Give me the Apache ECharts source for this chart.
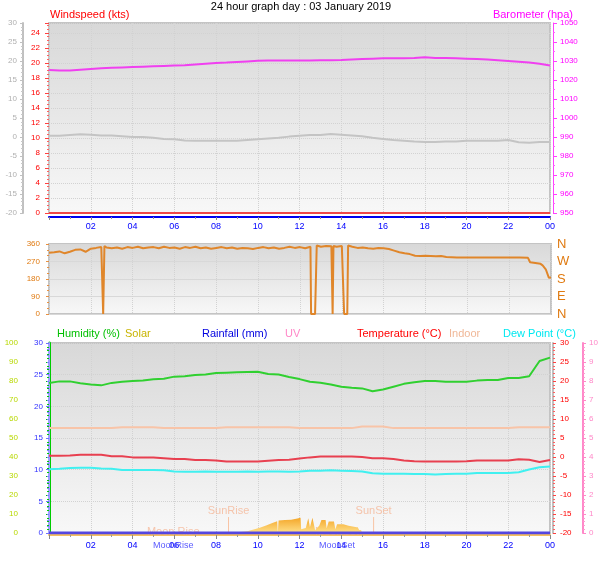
<!DOCTYPE html>
<html><head><meta charset="utf-8">
<script src="https://cdn.jsdelivr.net/npm/echarts@6/dist/echarts.min.js"></script>
<style>html,body{margin:0;padding:0;background:#fff}#c{width:608px;height:561px}</style>
</head><body><div id="c"></div>
<script>
// ---------- DATA ----------
const titleText = '24 hour graph day : 03 January 2019';
const halfHours = [0,0.5,1,1.5,2,2.5,3,3.5,4,4.5,5,5.5,6,6.5,7,7.5,8,8.5,9,9.5,10,10.5,11,11.5,12,12.5,13,13.5,14,14.5,15,15.5,16,16.5,17,17.5,18,18.5,19,19.5,20,20.5,21,21.5,22,22.5,23,23.5,24];
const baroValues = [1025.3,1025.0,1025.0,1025.4,1025.8,1026.2,1026.4,1026.6,1026.8,1027.0,1027.2,1027.4,1027.6,1027.8,1028.2,1028.6,1029.0,1029.2,1029.5,1029.8,1030.1,1030.2,1030.3,1030.3,1030.3,1030.3,1030.4,1030.4,1030.5,1030.8,1031.0,1031.2,1031.4,1031.5,1031.5,1031.6,1032.0,1031.6,1031.6,1031.4,1031.2,1031.0,1030.8,1030.4,1030.0,1029.6,1029.2,1028.6,1027.6];
const apparentValues = [0.3,0.3,0.5,0.7,0.6,0.4,0.4,0.2,0.0,0.0,-0.2,-0.5,-0.6,-0.9,-1.0,-1.0,-1.0,-1.0,-1.0,-0.8,-0.6,-0.4,-0.2,0.1,0.3,0.5,0.5,0.8,0.6,0.4,0.2,-0.2,-0.5,-0.8,-1.0,-1.2,-1.3,-1.3,-1.2,-1.2,-1.0,-1.0,-1.0,-1.0,-0.8,-1.4,-1.5,-1.3,-1.3];
const windHours = [0, 24];
const windValues = [0, 0];
const dirHours = [0,0.25,0.5,0.75,1,1.25,1.5,1.75,2,2.25,2.5,2.59,2.65,2.75,3,3.25,3.5,3.75,4,4.25,4.5,4.75,5,5.25,5.5,5.75,6,6.25,6.5,6.75,7,7.25,7.5,7.75,8,8.25,8.5,8.75,9,9.25,9.5,9.75,10,10.25,10.5,10.75,11,11.25,11.5,11.75,12,12.25,12.5,12.53,12.72,12.8,13,13.25,13.5,13.56,13.6,13.75,14,14.11,14.26,14.3,14.5,14.75,15,15.25,15.5,15.75,16,16.25,16.5,16.75,17,17.25,17.5,17.75,18,18.25,18.5,18.75,19,19.25,19.5,19.75,20,20.5,21,21.5,22,22.5,22.9,23,23.25,23.5,23.6,23.75,23.9,24];
const dirValues = [315,318,322,312,320,330,332,320,336,340,345,0,350,342,338,342,336,344,340,346,338,342,344,338,346,340,342,336,344,340,346,338,342,336,340,344,338,342,336,340,338,334,340,344,338,342,336,340,346,340,344,338,346,0,0,352,346,350,348,0,350,346,350,0,0,352,346,340,342,338,336,340,338,334,326,318,312,308,300,298,299,298,297,298,293,292,291,290,290,290,290,290,290,290,289,266,262,258,250,230,186,188];
const humidityValues = [79.0,79.8,79.8,78.8,78.2,77.7,79.0,79.6,80.0,80.3,80.9,81.2,82.3,82.5,83.2,83.4,84.2,84.4,84.6,84.8,84.9,83.7,83.4,82.1,81.0,79.6,79.1,78.2,77.0,76.5,76.1,74.6,75.5,77.0,78.5,79.3,80.0,80.0,79.6,79.6,79.6,80.2,80.5,80.5,81.6,81.6,82.5,90.5,92.3];
const tempValues = [0.3,0.3,0.4,0.6,0.6,0.6,0.2,0.2,-0.1,-0.1,-0.1,-0.3,-0.5,-0.5,-0.8,-0.8,-0.9,-1.2,-1.2,-1.2,-1.2,-1.0,-0.8,-0.7,-0.4,-0.1,0.1,0.1,0.1,0.1,0.0,-0.3,-0.3,-0.5,-0.9,-1.1,-1.2,-1.2,-1.2,-1.2,-1.1,-0.9,-0.9,-0.9,-0.9,-0.6,-0.7,-1.3,-0.8];
const dewValues = [-3.2,-3.1,-2.9,-2.8,-2.8,-3.0,-3.1,-3.4,-3.4,-3.4,-3.4,-3.5,-3.8,-3.9,-3.9,-3.8,-3.9,-3.9,-3.9,-3.8,-3.9,-3.8,-3.8,-3.9,-3.8,-3.6,-3.6,-3.5,-3.6,-3.7,-3.8,-4.3,-4.4,-4.4,-4.4,-4.5,-4.5,-4.6,-4.5,-4.4,-4.4,-4.2,-4.2,-4.2,-4.2,-4.0,-3.3,-2.7,-2.5];
const indoorValues = [7.6,7.6,7.6,7.6,7.6,7.6,7.6,7.8,7.8,7.8,7.8,7.6,7.6,7.6,7.6,7.6,7.6,7.8,7.8,7.8,7.8,7.8,7.8,7.8,7.6,7.6,7.6,7.6,7.6,7.6,8.0,8.0,8.0,7.6,7.6,7.6,7.6,7.6,7.6,7.6,7.6,7.6,7.6,7.6,7.6,7.8,7.8,7.8,7.8];
const solarHours = [9.05,9.2,9.5,9.8,10.1,10.4,10.7,10.93,10.96,11.0,11.3,11.6,11.9,12.05,12.08,12.3,12.42,12.5,12.62,12.75,12.95,13.05,13.25,13.3,13.4,13.65,13.72,13.8,14.1,14.15,14.35,14.4,14.8,14.85,14.95,15.0];
const solarValues = [0,5,9,18,28,40,52,62,2,66,68,70,76,80,20,26,78,30,80,15,40,68,68,25,60,60,20,46,46,38,38,29,29,16,16,0];
const rainHours = [0, 24];
const rainValues = [0, 0];
const sunNames = ['SunRise', 'SunSet'];
const sunHours = [8.6, 15.55];
const sunMarkHeight = 84;
const moonNames = ['MoonRise', 'MoonSet'];
const moonInnerNames = ['Moon Rise', 'MoonSet'];
const moonHours = [5.95, 13.8];
const compassLabels = ['N', 'E', 'S', 'W', 'N'];
const legendTop = [['Windspeed (kts)', '#ff0000'], ['Barometer (hpa)', '#ff00ff']];
const legendBottom = [['Humidity (%)', '#00c000'], ['Solar', '#c8b400'], ['Rainfall (mm)', '#0000e0'], ['UV', '#ff88c8'], ['Temperature (°C)', '#ff0000'], ['Indoor', '#f0b898'], ['Dew Point (°C)', '#00e8f0']];

// ---------- CHART ----------
const zip = (xs, ys) => xs.map((x, i) => [x, ys[i]]);
const FONT = "'Liberation Sans Narrow','Liberation Sans',Arial,sans-serif";
const FONT2 = "'Liberation Sans',Arial,sans-serif";
const hourFmt = v => v === 0 ? '' : (v === 24 ? '00' : String(v).padStart(2, '0'));
const plain = v => String(v);
const bg = {type:'linear', x:0, y:0, x2:0, y2:1, colorStops:[{offset:0,color:'#d8d8d8'},{offset:0.5,color:'#e8e8e8'},{offset:1,color:'#f8f8f8'}]};
const split = {show:true, lineStyle:{color:'#d2d2d2', type:'dotted', width:1}};
const lbl = (color, margin, extra) => Object.assign({color, fontSize:8, fontFamily:FONT, margin, formatter:plain}, extra || {});

const legendXBottom = [57, 125, 202, 285, 357, 449, 503];

const graphics = [
  {type:'text', x:301, y:7, style:{text:titleText, fill:'#000', font:'11px ' + FONT2, textAlign:'center', textVerticalAlign:'middle'}},
  {type:'text', x:50, y:15, style:{text:legendTop[0][0], fill:legendTop[0][1], font:'11px ' + FONT2, textVerticalAlign:'middle'}},
  {type:'text', x:573, y:15, style:{text:legendTop[1][0], fill:legendTop[1][1], font:'11px ' + FONT2, textAlign:'right', textVerticalAlign:'middle'}}
].concat(legendBottom.map((l, i) => ({type:'text', x:legendXBottom[i], y:334, style:{text:l[0], fill:l[1], font:'11px ' + FONT2, textVerticalAlign:'middle'}})));

const option = {
  animation:false,
  backgroundColor:'#ffffff',
  graphic:{elements:graphics},
  grid:[
    {left:49, top:23, width:501, height:190, show:true, backgroundColor:bg, borderColor:'#c4c4c4', borderWidth:2},
    {left:49, top:244, width:502, height:70, show:true, backgroundColor:bg, borderColor:'#c4c4c4', borderWidth:2},
    {left:49, top:343, width:501, height:190, show:true, backgroundColor:bg, borderColor:'#c4c4c4', borderWidth:2}
  ],
  xAxis:[
    {gridIndex:0, type:'value', min:0, max:24, interval:2, offset:4,
      axisLine:{show:true, onZero:false, lineStyle:{color:'#0000ee', width:2}},
      axisTick:{show:true, length:3, lineStyle:{color:'#888'}},
      minorTick:{show:true, splitNumber:2, length:2, lineStyle:{color:'#999'}},
      axisLabel:lbl('#0000ff', 5, {fontSize:9, formatter:hourFmt}), splitLine:split},
    {gridIndex:1, type:'value', min:0, max:24, interval:2,
      axisLine:{show:false, onZero:false}, axisTick:{show:false}, axisLabel:{show:false}, splitLine:split},
    {gridIndex:2, type:'value', min:0, max:24, interval:2, offset:2,
      axisLine:{show:true, onZero:false, lineStyle:{color:'#f5c060', width:2}},
      axisTick:{show:true, length:4, lineStyle:{color:'#888'}},
      minorTick:{show:true, splitNumber:2, length:2, lineStyle:{color:'#999'}},
      axisLabel:lbl('#0000ff', 6, {fontSize:9, formatter:hourFmt}), splitLine:split},
    {gridIndex:2, type:'value', min:0, max:24, offset:2, position:'bottom',
      axisLine:{show:false, onZero:false}, axisTick:{show:false}, splitLine:{show:false},
      axisLabel:lbl('#5a5aff', 6, {fontSize:9, customValues:moonHours, formatter:v => moonNames[moonHours.indexOf(v)] || ''})}
  ],
  yAxis:[
    {gridIndex:0, type:'value', position:'left', offset:2, min:0, max:25.33, interval:2,
      axisLine:{show:false}, axisTick:{show:true, length:4, lineStyle:{color:'#ff4040'}},
      minorTick:{show:true, splitNumber:4, length:2, lineStyle:{color:'#ff6060'}},
      axisLabel:lbl('#ff0000', 7, {formatter:v => (v % 2 === 0 ? String(v) : '')}), splitLine:split},
    {gridIndex:0, type:'value', position:'left', offset:26, min:-20, max:30, interval:5,
      axisLine:{show:true, lineStyle:{color:'#c0c0c0', width:2}}, axisTick:{show:true, length:3, lineStyle:{color:'#c0c0c0'}},
      minorTick:{show:true, splitNumber:5, length:2, lineStyle:{color:'#c8c8c8'}},
      axisLabel:lbl('#b0b0b0', 6), splitLine:{show:false}},
    {gridIndex:0, type:'value', position:'right', offset:3, min:950, max:1050, interval:10,
      axisLine:{show:true, lineStyle:{color:'#ff40ff', width:1}}, axisTick:{show:true, length:4, lineStyle:{color:'#ff40ff'}},
      minorTick:{show:true, splitNumber:2, length:2, lineStyle:{color:'#ff60ff'}},
      axisLabel:lbl('#ff00ff', 7), splitLine:{show:false}},
    {gridIndex:1, type:'value', position:'left', offset:2, min:0, max:360, interval:90,
      axisLine:{show:false}, axisTick:{show:true, length:3, lineStyle:{color:'#e89040'}},
      minorTick:{show:true, splitNumber:3, length:2, lineStyle:{color:'#e89040'}},
      axisLabel:lbl('#e07a10', 7), splitLine:{show:true, lineStyle:{color:'#d8d8d8', width:1}}},
    {gridIndex:1, type:'value', position:'right', offset:0, min:0, max:360, interval:90,
      axisLine:{show:false}, axisTick:{show:false},
      axisLabel:{color:'#e07a10', fontSize:13, fontFamily:FONT2, margin:6, formatter:v => compassLabels[v / 90]}, splitLine:{show:false}},
    {gridIndex:2, type:'value', position:'left', offset:25, min:0, max:100, interval:10,
      axisLine:{show:true, lineStyle:{color:'#00cc00', width:3}}, axisTick:{show:true, length:3, lineStyle:{color:'#00cc00'}},
      minorTick:{show:true, splitNumber:5, length:2, lineStyle:{color:'#00cc00'}},
      axisLabel:lbl('#b8d800', 6), splitLine:{show:false}},
    {gridIndex:2, type:'value', position:'left', offset:1, min:0, max:30, interval:5,
      axisLine:{show:true, lineStyle:{color:'#a0a0ff', width:2}}, axisTick:{show:true, length:3, lineStyle:{color:'#7070ff'}},
      minorTick:{show:true, splitNumber:5, length:2, lineStyle:{color:'#8080ff'}},
      axisLabel:lbl('#3030ff', 5), splitLine:split},
    {gridIndex:2, type:'value', position:'right', offset:3, min:-20, max:30, interval:5,
      axisLine:{show:true, lineStyle:{color:'#c0c0c0', width:2}}, axisTick:{show:true, length:3, lineStyle:{color:'#ff4040'}},
      minorTick:{show:true, splitNumber:5, length:2, lineStyle:{color:'#ff6060'}},
      axisLabel:lbl('#ff0000', 7), splitLine:{show:false}},
    {gridIndex:2, type:'value', position:'right', offset:33, min:0, max:10, interval:1,
      axisLine:{show:true, lineStyle:{color:'#ff88c8', width:2}}, axisTick:{show:true, length:3, lineStyle:{color:'#ff88c8'}},
      minorTick:{show:true, splitNumber:5, length:2, lineStyle:{color:'#ff99d0'}},
      axisLabel:lbl('#ff88c8', 6), splitLine:{show:false}},
    {gridIndex:2, type:'value', show:false, min:0, max:1000}
  ],
  series:[
    {type:'line', xAxisIndex:0, yAxisIndex:1, data:zip(halfHours, apparentValues), showSymbol:false, lineStyle:{color:'#c4c4c4', width:2}},
    {type:'line', xAxisIndex:0, yAxisIndex:2, data:zip(halfHours, baroValues), showSymbol:false, lineStyle:{color:'#f040f0', width:2}},
    {type:'line', xAxisIndex:0, yAxisIndex:0, data:zip(windHours, windValues), showSymbol:false, lineStyle:{color:'#f04848', width:2}},
    {type:'line', xAxisIndex:1, yAxisIndex:3, data:zip(dirHours, dirValues), showSymbol:false, lineStyle:{color:'#e0862a', width:2}},
    {type:'line', xAxisIndex:2, yAxisIndex:9, data:zip(solarHours, solarValues), showSymbol:false, lineStyle:{width:0},
      areaStyle:{opacity:1, color:{type:'linear', x:0, y:0, x2:0, y2:1, colorStops:[{offset:0,color:'#f4a628'},{offset:1,color:'#ffe08a'}]}}},
  ].concat(sunHours.map((h, i) => ({type:'line', xAxisIndex:2, yAxisIndex:9, data:[[h, 0], [h, sunMarkHeight]], showSymbol:false, lineStyle:{color:'#f8c4a4', width:1}})))
  .concat([
    {type:'scatter', xAxisIndex:2, yAxisIndex:9, symbolSize:0, data:sunHours.map((h, i) => ({value:[h, sunMarkHeight], name:sunNames[i]})),
      label:{show:true, position:'top', distance:1, formatter:p => p.name, color:'#f5b898', fontSize:11, fontFamily:FONT2}},
    {type:'scatter', xAxisIndex:2, yAxisIndex:9, symbolSize:0, data:moonHours.map((h, i) => ({value:[h, 0], name:moonInnerNames[i]})),
      label:{show:true, position:'inside', offset:[0, -1], formatter:p => p.name, color:'#f5b898', fontSize:11, fontFamily:FONT2}},
    {type:'line', xAxisIndex:2, yAxisIndex:7, data:zip(halfHours, indoorValues), showSymbol:false, lineStyle:{color:'#f8c4a8', width:2}},
    {type:'line', xAxisIndex:2, yAxisIndex:5, data:zip(halfHours, humidityValues), showSymbol:false, lineStyle:{color:'#30d030', width:2}},
    {type:'line', xAxisIndex:2, yAxisIndex:7, data:zip(halfHours, tempValues), showSymbol:false, lineStyle:{color:'#e84050', width:2}},
    {type:'line', xAxisIndex:2, yAxisIndex:7, data:zip(halfHours, dewValues), showSymbol:false, lineStyle:{color:'#40f0f0', width:2}},
    {type:'line', xAxisIndex:2, yAxisIndex:6, data:zip(rainHours, rainValues), showSymbol:false, lineStyle:{color:'#5546e0', width:3}}
  ])
};
const chart = echarts.init(document.getElementById('c'), null, {renderer:'canvas'});
chart.setOption(option);
</script></body></html>
